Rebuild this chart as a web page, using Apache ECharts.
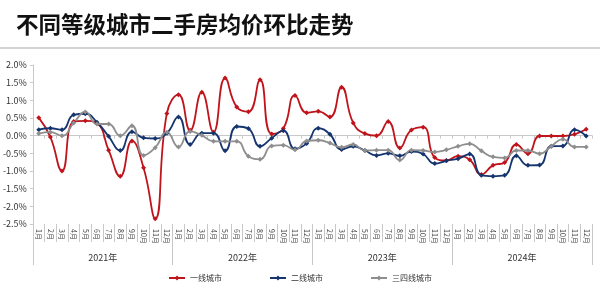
<!DOCTYPE html>
<html>
<head>
<meta charset="utf-8">
<script src="https://cdn.jsdelivr.net/npm/echarts@6/dist/echarts.min.js"></script>
<style>
html,body{margin:0;padding:0;background:#fff;}
#chart{width:600px;height:289px;}
</style>
</head>
<body>
<div id="chart"></div>
<script>
const titleText = '不同等级城市二手房均价环比走势';
const years = ['2021年', '2022年', '2023年', '2024年'];
const monthNames = ['1月','2月','3月','4月','5月','6月','7月','8月','9月','10月','11月','12月'];
const yTicks = { min: -2.5, max: 2.0, interval: 0.5 };
const seriesNames = ['一线城市', '二线城市', '三四线城市'];

const tier1 = [
  0.51, -0.04, -1.00, 0.40, 0.42, 0.35, -0.41, -1.15, -0.15, -0.91, -2.35, 0.63,
  1.16, 0.15, 1.23, 0.10, 1.63, 0.81, 0.68, 1.58, 0.05, 0.20, 1.14, 0.65,
  0.69, 0.53, 1.37, 0.36, 0.06, 0.00, 0.40, -0.35, 0.16, 0.24, -0.62, -0.70,
  -0.58, -0.68, -1.10, -0.84, -0.76, -0.25, -0.51, -0.01, -0.01, -0.01, 0.04, 0.18
];
const tier2 = [
  0.17, 0.21, 0.17, 0.59, 0.62, 0.38, -0.02, -0.42, 0.11, -0.06, -0.08, 0.07,
  0.53, -0.25, 0.07, 0.07, -0.43, 0.26, 0.20, -0.30, -0.07, 0.14, -0.37, -0.22,
  0.21, 0.04, -0.39, -0.30, -0.42, -0.56, -0.50, -0.57, -0.45, -0.52, -0.79, -0.71,
  -0.65, -0.52, -1.12, -1.15, -1.12, -0.57, -0.84, -0.83, -0.30, -0.29, 0.17, -0.01
];
const tier34 = [
  0.06, 0.10, 0.00, 0.36, 0.67, 0.33, 0.33, 0.00, 0.28, -0.56, -0.34, 0.10,
  -0.32, 0.12, 0.01, -0.16, -0.16, -0.16, -0.58, -0.67, -0.29, -0.27, -0.40, -0.15,
  -0.13, -0.21, -0.33, -0.25, -0.42, -0.41, -0.41, -0.69, -0.41, -0.42, -0.46, -0.40,
  -0.30, -0.23, -0.43, -0.60, -0.63, -0.42, -0.42, -0.51, -0.30, -0.10, -0.32, -0.32
];

const months = [];
years.forEach(function(){ monthNames.forEach(function(m){ months.push(m); }); });

const colors = ['#c0141c', '#16356f', '#8e8e8e'];
const font = '"Noto Sans CJK SC", "Noto Sans", sans-serif';

const chart = echarts.init(document.getElementById('chart'), null, {renderer: 'canvas'});

function mkSeries(name, data, color) {
  return {
    name: name, type: 'line', data: data, smooth: 0.5,
    xAxisIndex: 0, yAxisIndex: 0,
    symbol: 'diamond', symbolSize: 5, showSymbol: true,
    lineStyle: { color: color, width: 1.8 },
    itemStyle: { color: color },
    emphasis: { disabled: true },
    z: 3
  };
}

chart.setOption({
  animation: false,
  textStyle: { fontFamily: font },
  title: {
    text: titleText, left: 11, top: 8,
    textStyle: { fontSize: 22.5, fontWeight: 'bold', color: '#111', fontFamily: font }
  },
  graphic: [{
    type: 'line', shape: { x1: 0, y1: 48, x2: 600, y2: 48 },
    style: { stroke: '#c4c4c4', lineWidth: 1.5 }, silent: true
  }],
  legend: {
    data: seriesNames, bottom: 2, left: 'center', itemGap: 47,
    itemWidth: 16, itemHeight: 6,
    textStyle: { fontSize: 8, color: '#333', fontFamily: font }
  },
  grid: { left: 28, right: 8, top: 65, bottom: 65, containLabel: false },
  xAxis: [
    {
      type: 'category', data: months, position: 'bottom', boundaryGap: true,
      axisLine: { show: false, onZero: false },
      axisTick: { show: true, interval: 0, length: 18, lineStyle: { color: '#c8c8c8' } },
      axisLabel: { interval: 0, rotate: -90, fontSize: 7, color: '#444', margin: 5 }
    },
    {
      type: 'category', data: years, position: 'bottom', boundaryGap: true,
      axisLine: { show: false, onZero: false },
      axisTick: { show: true, interval: 0, length: 41, lineStyle: { color: '#c8c8c8' } },
      axisLabel: { interval: 0, fontSize: 9, color: '#333', margin: 29 }
    },
    {
      type: 'category', data: months, position: 'bottom', boundaryGap: true,
      axisLine: { show: true, onZero: true, lineStyle: { color: '#c8c8c8', width: 1 } },
      axisTick: { show: true, interval: 0, length: 3, lineStyle: { color: '#c8c8c8' } },
      axisLabel: { show: false }
    }
  ],
  yAxis: {
    type: 'value', min: yTicks.min, max: yTicks.max, interval: yTicks.interval,
    axisLine: { show: true, lineStyle: { color: '#c8c8c8' } },
    axisTick: { show: true, length: 3, lineStyle: { color: '#c8c8c8' } },
    splitLine: { show: false },
    axisLabel: { fontSize: 9, color: '#333', margin: 6,
      formatter: function(v){ return v.toFixed(1) + '%'; } }
  },
  series: [
    mkSeries(seriesNames[0], tier1, colors[0]),
    mkSeries(seriesNames[1], tier2, colors[1]),
    mkSeries(seriesNames[2], tier34, colors[2]),
    { type: 'line', xAxisIndex: 2, yAxisIndex: 0, data: [], silent: true }
  ]
});
</script>
</body>
</html>
